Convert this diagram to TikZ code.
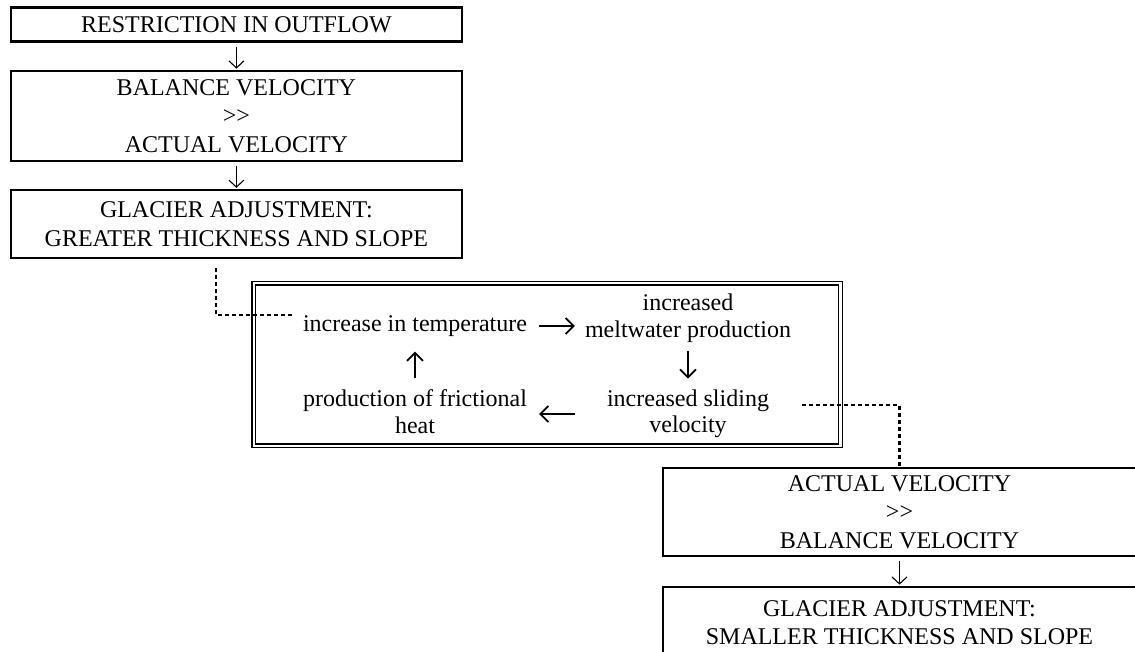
\documentclass[tikz,border=0pt]{standalone}
\usepackage{fontspec}
\setmainfont{Liberation Serif}
\usetikzlibrary{arrows.meta,positioning}
\tikzset{
  box/.style={draw,line width=2.3pt,inner sep=0pt,align=center,
              font=\fontsize{24}{28.5}\selectfont},
  loopbox/.style={draw,line width=1.5pt,double,double distance=2.2pt,
                  inner sep=0pt},
  cyc/.style={inner sep=0pt,align=center,
              font=\fontsize{24}{26.5}\selectfont},
  flow/.style={-{Straight Barb[length=7pt,width=15pt]},line width=1.1pt},
  cycarrow/.style={-{Straight Barb[length=8pt,width=16pt]},line width=1.7pt},
  link/.style={line width=2.6pt,dash pattern=on 4pt off 3pt},
}

\begin{document}
\begin{tikzpicture}[x=1pt,y=-1pt]
  % frame 1135 x 652, y runs downwards
  \useasboundingbox(0,0)rectangle(1135,652);
  \clip(0,0)rectangle(1135,652);

  % left column
  \node[box,minimum width=451pt,minimum height=34pt](restr)at(236.4,24.5)
    {RESTRICTION IN OUTFLOW};
  \node[box,minimum width=451pt,minimum height=90pt](balgt)at(236.4,115.8)
    {BALANCE VELOCITY\\>{}>\\ACTUAL VELOCITY};
  \node[box,minimum width=451pt,minimum height=68pt](adjup)at(236.4,224)
    {GLACIER ADJUSTMENT:\\GREATER THICKNESS AND SLOPE};
  \draw[flow,shorten <=4pt,shorten >=1pt](restr)--(balgt);
  \draw[flow,shorten <=4pt,shorten >=1pt](balgt)--(adjup);

  % feedback loop in double frame
  \node[loopbox,minimum width=586.7pt,minimum height=162.6pt](loop)
    at(547.2,364.5){};
  \node[cyc,minimum width=224pt](temp)at(415,326){increase in temperature};
  \node[cyc,minimum width=206pt](melt)at(688,318)
    {increased\\meltwater production};
  \node[cyc,minimum width=206pt](slide)at(688,414)
    {increased sliding\\velocity};
  \node[cyc,minimum width=224pt](fric)at(415,411.5)
    {production of frictional\\heat};
  \draw[cycarrow,shorten <=12pt,shorten >=10pt](temp.east)--(temp.east-|melt.west);
  \draw[cycarrow,shorten <=9pt,shorten >=11pt](melt)--(slide);
  \draw[cycarrow,shorten <=10pt,shorten >=12pt](slide.west)--(slide.west-|fric.east);
  \draw[cycarrow,shorten <=11pt,shorten >=15pt](fric)--(temp);

  % right column
  \node[box,minimum width=473pt,minimum height=88pt](actgt)at(899.5,512)
    {ACTUAL VELOCITY\\>{}>\\BALANCE VELOCITY};
  \node[box,minimum width=473pt,minimum height=72pt](adjdown)at(899.5,622.8)
    {GLACIER ADJUSTMENT:\\SMALLER THICKNESS AND SLOPE};
  \draw[flow,shorten <=4pt,shorten >=1pt](actgt)--(adjdown);

  % dotted links into and out of the loop
  \coordinate(kinkA)at(216,315);
  \coordinate(endA)at(292,315);
  \draw[link,shorten <=9pt](adjup.south-|kinkA)--(kinkA)--(endA);
  \coordinate(startB)at(802,405);
  \draw[link](startB)-|(actgt.north);
\end{tikzpicture}
\end{document}
